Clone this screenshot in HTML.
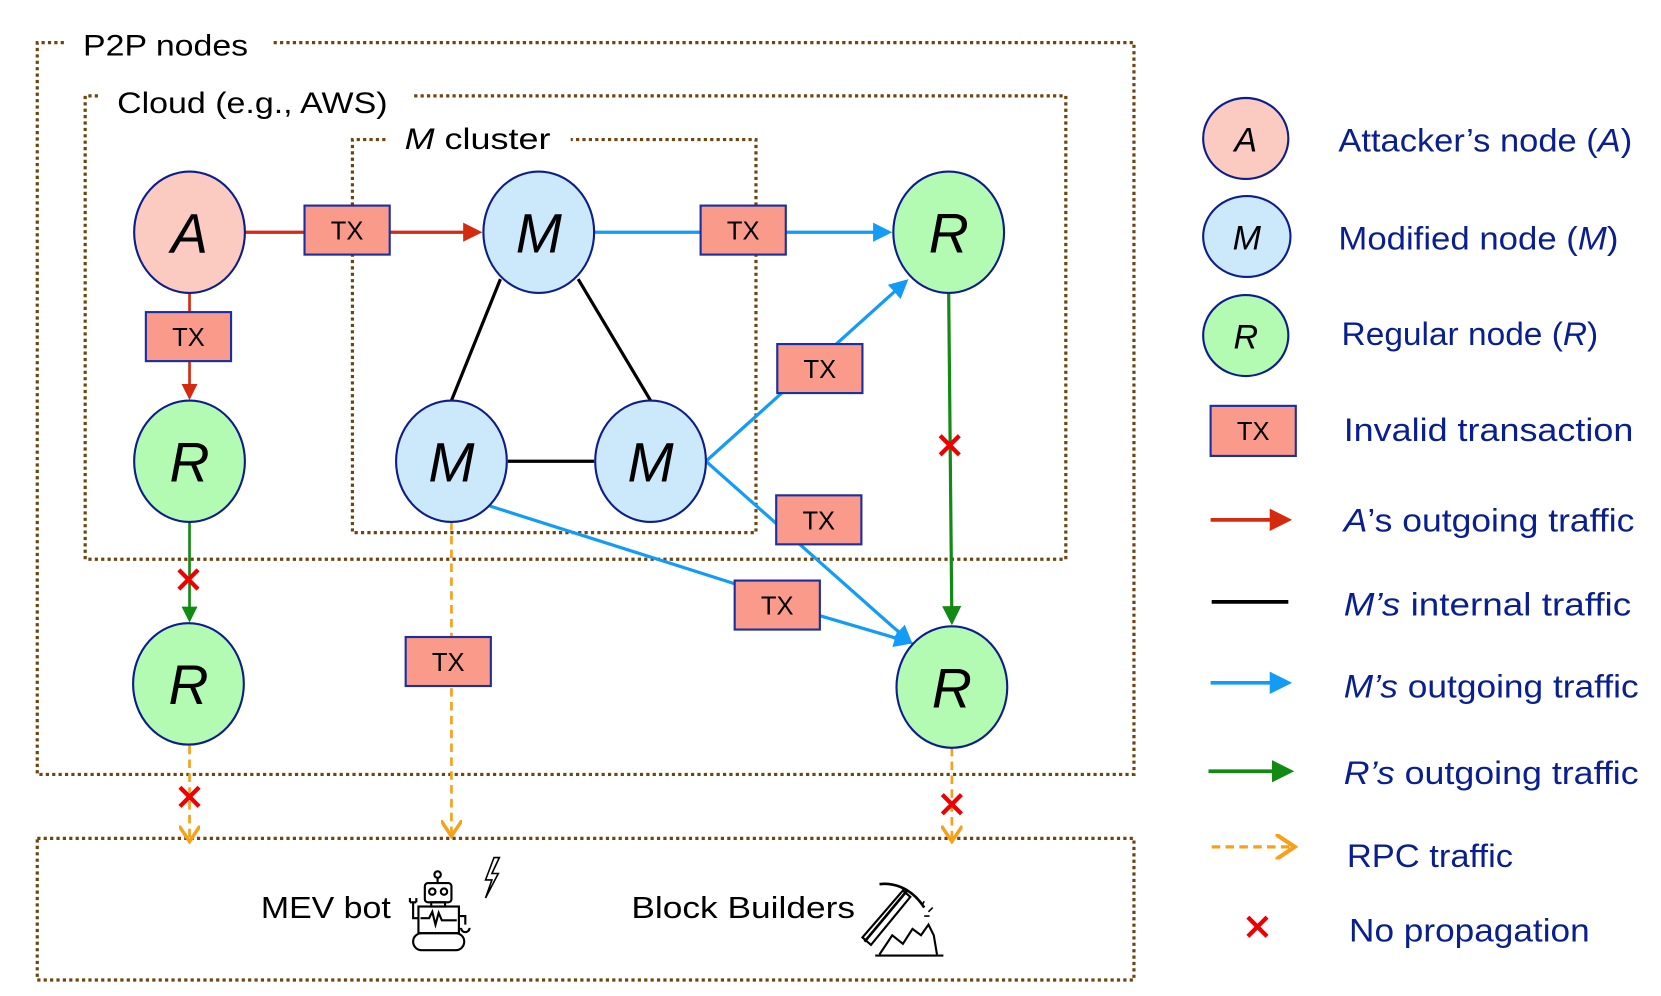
<!DOCTYPE html>
<html><head><meta charset="utf-8"><style>
html,body{margin:0;padding:0;background:#fff;}
svg{display:block;}
text{font-family:"Liberation Sans",sans-serif;}
</style></head><body>
<svg width="1661" height="996" viewBox="0 0 1560 935" preserveAspectRatio="none" xmlns="http://www.w3.org/2000/svg">
<defs>
<marker id="ar" markerWidth="6" markerHeight="6" refX="5" refY="3" orient="auto" markerUnits="strokeWidth"><path d="M0,0 L6,3 L0,6 z" fill="#d42a10"/></marker>
<marker id="ab" markerWidth="6" markerHeight="6" refX="5" refY="3" orient="auto" markerUnits="strokeWidth"><path d="M0,0 L6,3 L0,6 z" fill="#139cf5"/></marker>
<marker id="ag" markerWidth="6" markerHeight="6" refX="5" refY="3" orient="auto" markerUnits="strokeWidth"><path d="M0,0 L6,3 L0,6 z" fill="#138a13"/></marker>
<marker id="ao" markerWidth="7" markerHeight="8" refX="6" refY="4" orient="auto" markerUnits="strokeWidth"><path d="M0,0 L6,4 L0,8" fill="none" stroke="#f8a019" stroke-width="1.3"/></marker>
</defs>
<g fill="none" stroke="#70440f" stroke-width="3" stroke-dasharray="3 3">
<path d="M60,40 H35 V727 H1065 V40 H255"/>
<path d="M92,90 H80 V525 H1001 V90 H388"/>
<path d="M362,131 H331 V500 H710 V131 H536"/>
<path d="M35,787 H1065 V920 H35 Z"/>
</g>
<text x="78" y="52" font-size="28" textLength="155" lengthAdjust="spacingAndGlyphs">P2P nodes</text>
<text x="110" y="106" font-size="28" textLength="254" lengthAdjust="spacingAndGlyphs">Cloud (e.g., AWS)</text>
<text x="380" y="140" font-size="28" textLength="137" lengthAdjust="spacingAndGlyphs"><tspan font-style="italic">M</tspan> cluster</text>

<!-- edges -->
<g stroke-width="3" fill="none">
<line x1="230" y1="218" x2="450" y2="218" stroke="#d42a10" marker-end="url(#ar)"/>
<line x1="178" y1="275" x2="178" y2="373" stroke="#d42a10" stroke-width="2.5" marker-end="url(#ar)"/>
<line x1="558" y1="218" x2="835" y2="218" stroke="#139cf5" marker-end="url(#ab)"/>
<line x1="470" y1="262" x2="424" y2="376" stroke="#000"/>
<line x1="543" y1="262" x2="611" y2="376" stroke="#000"/>
<line x1="477" y1="433" x2="558" y2="433" stroke="#000"/>
<line x1="663" y1="433" x2="851" y2="264" stroke="#139cf5" marker-end="url(#ab)"/>
<line x1="663" y1="433" x2="855" y2="603" stroke="#139cf5" marker-end="url(#ab)"/>
<polyline points="460,475 690,548 770,578 855,603" stroke="#139cf5" marker-end="url(#ab)"/>
<line x1="891" y1="275" x2="894" y2="584" stroke="#138a13" marker-end="url(#ag)"/>
<line x1="178" y1="490" x2="178" y2="582" stroke="#138a13" stroke-width="2.5" marker-end="url(#ag)"/>
<g stroke="#f8a019" stroke-width="2.5" stroke-dasharray="8 5">
<line x1="178" y1="700" x2="178" y2="790" marker-end="url(#ao)"/>
<line x1="424" y1="490" x2="424" y2="785" marker-end="url(#ao)"/>
<line x1="894" y1="702" x2="894" y2="790" marker-end="url(#ao)"/>
</g>
</g>
<!-- red x -->
<g stroke="#e00" stroke-width="4">
<path d="M883,409 L901,427 M901,409 L883,427"/>
<path d="M168,535 L186,553 M186,535 L168,553"/>
<path d="M169,739 L187,757 M187,739 L169,757"/>
<path d="M885,746 L903,764 M903,746 L885,764"/>
<path d="M1172,861 L1190,879 M1190,861 L1172,879"/>
</g>

<!-- nodes -->
<g stroke="#0d1e8c" stroke-width="2">
<ellipse cx="178" cy="218" rx="52" ry="57" fill="#fbcbc2"/>
<ellipse cx="506" cy="218" rx="52" ry="57" fill="#cce8fb"/>
<ellipse cx="891" cy="218" rx="52" ry="57" fill="#b3fbb3"/>
<ellipse cx="178" cy="433" rx="52" ry="57" fill="#b3fbb3"/>
<ellipse cx="424" cy="433" rx="52" ry="57" fill="#cce8fb"/>
<ellipse cx="611" cy="433" rx="52" ry="57" fill="#cce8fb"/>
<ellipse cx="177" cy="642" rx="52" ry="57" fill="#b3fbb3"/>
<ellipse cx="894" cy="645" rx="52" ry="57" fill="#b3fbb3"/>
<ellipse cx="1170" cy="130" rx="40" ry="38" fill="#fbcbc2"/>
<ellipse cx="1171" cy="222" rx="41" ry="38" fill="#cce8fb"/>
<ellipse cx="1170" cy="315" rx="40" ry="38" fill="#b3fbb3"/>
</g>
<g font-style="italic" font-size="52" text-anchor="middle">
<text x="178" y="237">A</text><text x="506" y="237">M</text><text x="891" y="237">R</text>
<text x="178" y="452">R</text><text x="424" y="452">M</text><text x="611" y="452">M</text>
<text x="177" y="661">R</text><text x="894" y="664">R</text>
</g>
<g font-style="italic" font-size="32" text-anchor="middle">
<text x="1170" y="142">A</text><text x="1171" y="234">M</text><text x="1170" y="327">R</text>
</g>

<!-- TX boxes -->
<g fill="#fa9a8a" stroke="#1a2fa0" stroke-width="2">
<rect x="286" y="193" width="80" height="46"/>
<rect x="658" y="193" width="80" height="46"/>
<rect x="137" y="293" width="80" height="46"/>
<rect x="730" y="323" width="80" height="46"/>
<rect x="729" y="465" width="80" height="46"/>
<rect x="690" y="545" width="80" height="46"/>
<rect x="381" y="598" width="80" height="46"/>
<rect x="1137" y="381" width="80" height="47"/>
</g>
<g font-size="24" text-anchor="middle">
<text x="326" y="225">TX</text><text x="698" y="225">TX</text><text x="177" y="325">TX</text>
<text x="770" y="355">TX</text><text x="769" y="497">TX</text><text x="730" y="577">TX</text>
<text x="421" y="630">TX</text><text x="1177" y="413">TX</text>
</g>

<!-- legend lines -->
<g stroke-width="3.5">
<line x1="1137" y1="488" x2="1210" y2="488" stroke="#d42a10" marker-end="url(#ar)"/>
<line x1="1138" y1="565" x2="1210" y2="565" stroke="#000"/>
<line x1="1137" y1="641" x2="1210" y2="641" stroke="#139cf5" marker-end="url(#ab)"/>
<line x1="1135" y1="724" x2="1212" y2="724" stroke="#138a13" marker-end="url(#ag)"/>
<line x1="1138" y1="795" x2="1216" y2="795" stroke="#f8a019" stroke-width="3" stroke-dasharray="8 5" marker-end="url(#ao)"/>
</g>
<g font-size="30" fill="#0a1f8f">
<text x="1257" y="142" textLength="276" lengthAdjust="spacingAndGlyphs">Attacker’s node (<tspan font-style="italic">A</tspan>)</text>
<text x="1257" y="234" textLength="263" lengthAdjust="spacingAndGlyphs">Modified node (<tspan font-style="italic">M</tspan>)</text>
<text x="1260" y="324" textLength="241" lengthAdjust="spacingAndGlyphs">Regular node (<tspan font-style="italic">R</tspan>)</text>
<text x="1262" y="414" textLength="272" lengthAdjust="spacingAndGlyphs">Invalid transaction</text>
<text x="1262" y="499" textLength="273" lengthAdjust="spacingAndGlyphs"><tspan font-style="italic">A</tspan>’s outgoing traffic</text>
<text x="1262" y="578" textLength="270" lengthAdjust="spacingAndGlyphs"><tspan font-style="italic">M’s</tspan> internal  traffic</text>
<text x="1262" y="655" textLength="277" lengthAdjust="spacingAndGlyphs"><tspan font-style="italic">M’s</tspan> outgoing traffic</text>
<text x="1262" y="736" textLength="277" lengthAdjust="spacingAndGlyphs"><tspan font-style="italic">R’s</tspan> outgoing  traffic</text>
<text x="1265" y="814" textLength="156" lengthAdjust="spacingAndGlyphs">RPC traffic</text>
<text x="1267" y="884" textLength="226" lengthAdjust="spacingAndGlyphs">No propagation</text>
</g>

<!-- bottom -->
<text x="245" y="862" font-size="29" textLength="122" lengthAdjust="spacingAndGlyphs">MEV bot</text>
<text x="593" y="862" font-size="29" textLength="210" lengthAdjust="spacingAndGlyphs">Block Builders</text>
<g fill="none" stroke="#000" stroke-width="2">
<circle cx="411" cy="821" r="3"/><line x1="411" y1="824" x2="411" y2="829"/>
<rect x="399" y="829" width="25" height="18" rx="3"/>
<circle cx="406" cy="837" r="3"/><circle cx="417" cy="837" r="3"/>
<rect x="405" y="847" width="13" height="4"/>
<rect x="393" y="851" width="38" height="25"/>
<path d="M395,862 L403,862 L406,856 L409,868 L412,857 L415,864 L429,864"/>
<path d="M393,862 H388 V847 M385,847 V843 M391,847 V843 M385,847 H391"/>
<path d="M431,860 H437 V868 M433,871 a4,4 0 0 0 8,0"/>
<rect x="388" y="876" width="48" height="16" rx="8"/>
<path d="M464,805 L456,826 L462,826 L456,843 L468,820 L462,820 L469,805 Z" stroke-width="1.5"/>
<path d="M812,884 L852,836 M826,830 C842,828 858,836 868,852" stroke-width="2.5"/>
<path d="M810,880 L818,887 L855,842 L848,836 Z"/>
<path d="M826,896 L838,878 L848,886 L857,872 L865,878 L872,868 L877,878 L880,896 M822,897 H886"/>
<path d="M872,856 L876,852 M868,860 L873,860 M866,850 L868,846" stroke-width="1.5"/>
</g>
</svg>
</body></html>
